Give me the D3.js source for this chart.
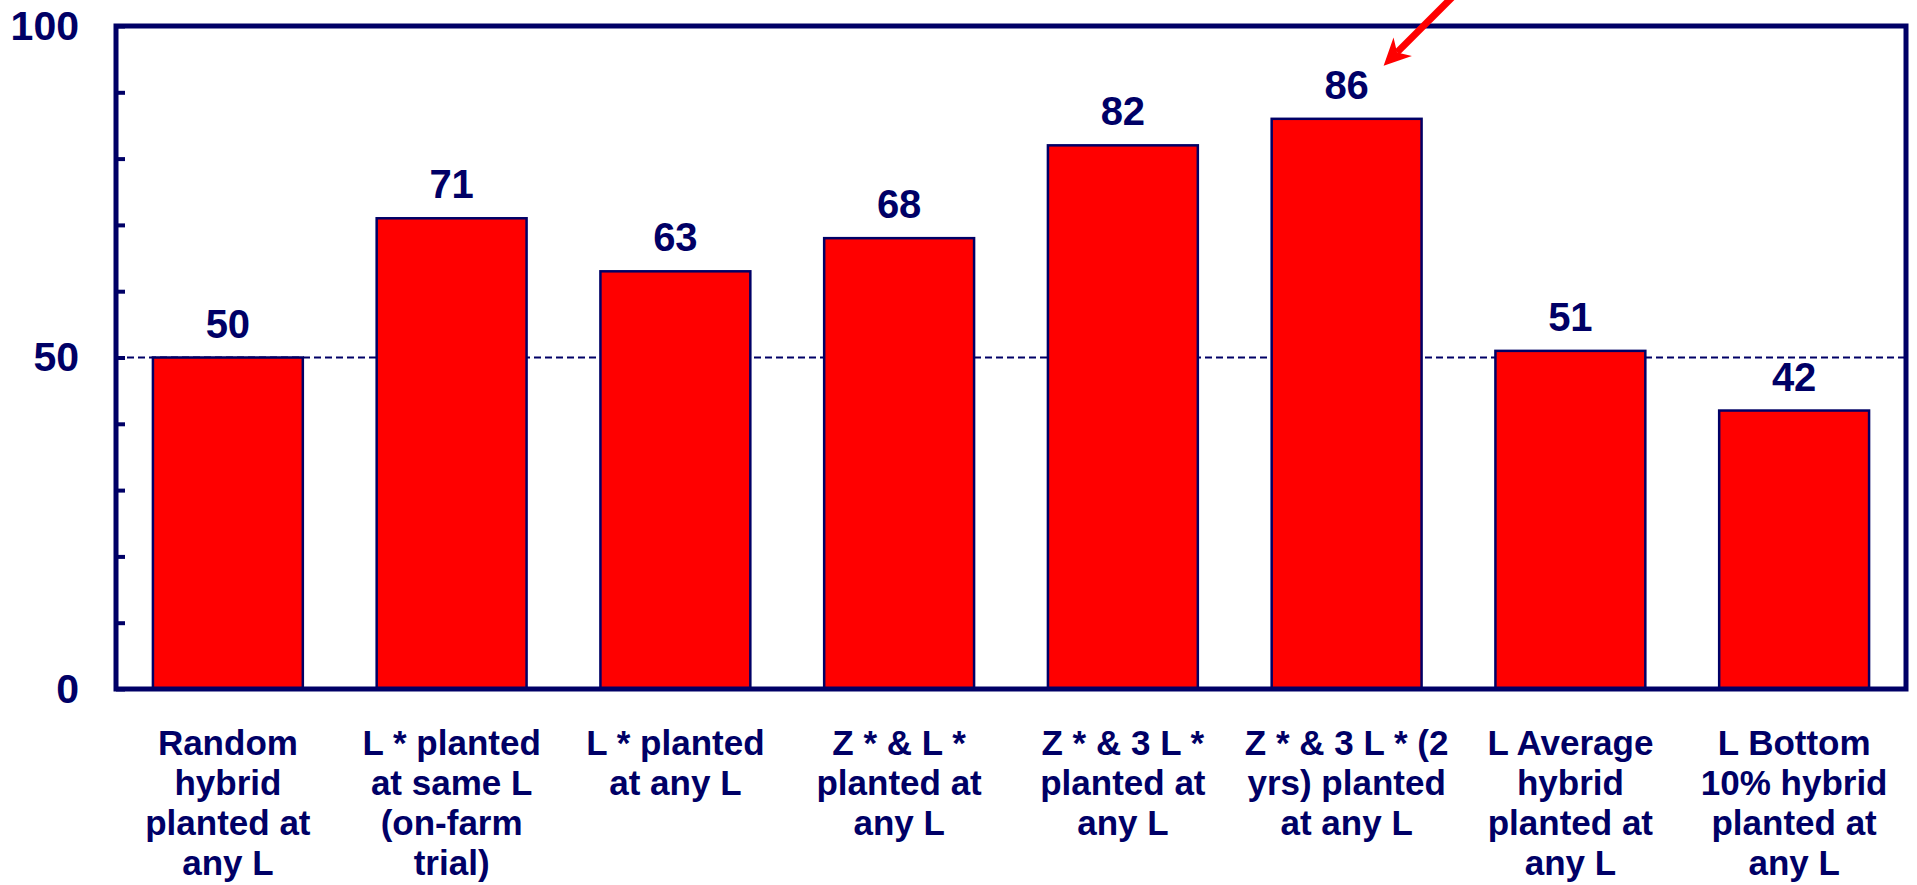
<!DOCTYPE html>
<html>
<head>
<meta charset="utf-8">
<script src="https://cdn.jsdelivr.net/npm/d3@7"></script>
<style>
  html, body { margin: 0; padding: 0; background: #ffffff; }
  svg { display: block; }
  text { font-family: "Liberation Sans", Arial, sans-serif; font-weight: bold; fill: #000066; }
</style>
</head>
<body>
<svg id="chart" width="1917" height="885"></svg>
<script>
// Share of hybrids placed correctly, by selection method
const categories = [
  "Random|hybrid|planted at|any L",
  "L * planted|at same L|(on-farm|trial)",
  "L * planted|at any L",
  "Z * & L *|planted at|any L",
  "Z * & 3 L *|planted at|any L",
  "Z * & 3 L * (2|yrs) planted|at any L",
  "L Average|hybrid|planted at|any L",
  "L Bottom|10% hybrid|planted at|any L"
];
const values = [50, 71, 63, 68, 82, 86, 51, 42];
const yLabelTicks = [0, 50, 100];
const yMinorTicks = [0, 10, 20, 30, 40, 50, 60, 70, 80, 90, 100];
const referenceLevel = 50;
const highlightIndex = 5;

const navy = "#000066";
const red = "#ff0000";

const svg = d3.select("#chart");
const plot = { left: 116, right: 1906, top: 26, bottom: 689 };

const x = d3.scaleBand()
  .domain(categories)
  .range([plot.left, plot.right])
  .paddingInner(0.33)
  .paddingOuter(0.165);

const y = d3.scaleLinear()
  .domain([0, 100])
  .range([plot.bottom, plot.top]);

// reference line at 50 (behind the bars)
svg.append("line")
  .attr("x1", plot.left).attr("x2", plot.right)
  .attr("y1", y(referenceLevel)).attr("y2", y(referenceLevel))
  .attr("stroke", navy)
  .attr("stroke-width", 2)
  .attr("stroke-dasharray", "7,4");

// bars
svg.append("g").selectAll("rect")
  .data(values)
  .join("rect")
  .attr("x", (d, i) => x(categories[i]))
  .attr("y", d => y(d))
  .attr("width", x.bandwidth())
  .attr("height", d => y(0) - y(d))
  .attr("fill", red)
  .attr("stroke", navy)
  .attr("stroke-width", 2.5);

// value labels
svg.append("g").selectAll("text")
  .data(values)
  .join("text")
  .attr("x", (d, i) => x(categories[i]) + x.bandwidth() / 2)
  .attr("y", d => y(d) - 20)
  .attr("text-anchor", "middle")
  .style("font-size", "40px")
  .text(d => d);

// minor ticks pointing into the plot
const minorAxis = d3.axisRight(y).tickValues(yMinorTicks).tickSize(9).tickFormat("");
const gMinor = svg.append("g").attr("transform", `translate(${plot.left},0)`).call(minorAxis);
gMinor.select(".domain").remove();
gMinor.selectAll(".tick line").attr("stroke", navy).attr("stroke-width", 4);

// y labels
const labelAxis = d3.axisLeft(y).tickValues(yLabelTicks).tickSize(0).tickPadding(37);
const gLab = svg.append("g").attr("transform", `translate(${plot.left},0)`).call(labelAxis);
gLab.select(".domain").remove();
gLab.selectAll(".tick text")
  .style("font-size", "41px")
  .style("font-family", "\"Liberation Sans\", Arial, sans-serif")
  .style("font-weight", "bold")
  .attr("fill", navy);

// plot frame
svg.append("rect")
  .attr("x", plot.left).attr("y", plot.top)
  .attr("width", plot.right - plot.left)
  .attr("height", plot.bottom - plot.top)
  .attr("fill", "none")
  .attr("stroke", navy)
  .attr("stroke-width", 5);

// category labels, one line per tspan
const xAxis = d3.axisBottom(x).tickSize(0).tickFormat("");
const gX = svg.append("g").attr("transform", `translate(0,${plot.bottom})`).call(xAxis);
gX.select(".domain").remove();
gX.selectAll(".tick").each(function (d) {
  const t = d3.select(this).append("text")
    .attr("text-anchor", "middle")
    .style("font-size", "35px");
  d.split("|").forEach((line, k) => {
    t.append("tspan").attr("x", 0).attr("y", 66 + k * 40).text(line);
  });
});

// red arrow pointing at the highest value label
const hx = x(categories[highlightIndex]) + x.bandwidth() / 2 + 37;
const hy = y(values[highlightIndex]) - 53;
const ang = Math.atan2(-66, 66); // direction from tip towards the tail
const ux = Math.cos(ang), uy = Math.sin(ang);
const px = -uy, py = ux;
const headLen = 27, headHalf = 13, notch = 19;
const tail = [hx + ux * 140, hy + uy * 140];
svg.append("line")
  .attr("x1", hx + ux * notch).attr("y1", hy + uy * notch)
  .attr("x2", tail[0]).attr("y2", tail[1])
  .attr("stroke", red).attr("stroke-width", 7);
svg.append("path")
  .attr("d", d3.line()([
    [hx, hy],
    [hx + ux * headLen + px * headHalf, hy + uy * headLen + py * headHalf],
    [hx + ux * notch, hy + uy * notch],
    [hx + ux * headLen - px * headHalf, hy + uy * headLen - py * headHalf]
  ]) + "Z")
  .attr("fill", red);
</script>
</body>
</html>
